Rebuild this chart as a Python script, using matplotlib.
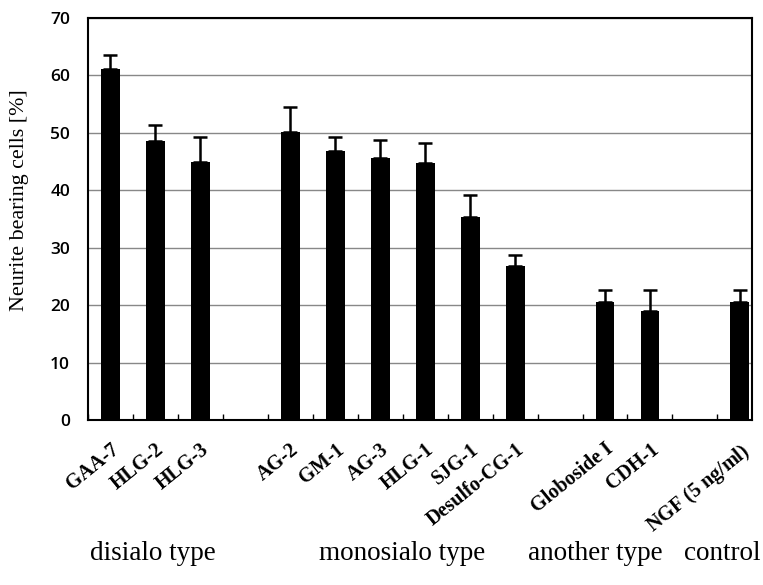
import numpy as np
import matplotlib.pyplot as plt

# data
labels = ["GAA-7", "HLG-2", "HLG-3", "AG-2", "GM-1", "AG-3", "HLG-1", "SJG-1",
          "Desulfo-CG-1", "Globoside I", "CDH-1", r"$\mathbf{NGF}$ (5 ng/ml)"]
slots = [0, 1, 2, 4, 5, 6, 7, 8, 9, 11, 12, 14]
values = [61.2, 48.5, 45.0, 50.2, 46.9, 45.7, 44.7, 35.4, 26.9, 20.6, 19.0, 20.6]
errors = [2.4, 2.9, 4.3, 4.3, 2.4, 3.0, 3.5, 3.8, 1.8, 2.1, 3.7, 2.1]
groups = ["disialo type", "monosialo type", "another type", "control"]
group_x = [153, 402, 595, 722]

plt.rcParams['mathtext.fontset'] = 'custom'
plt.rcParams['mathtext.bf'] = 'Liberation Serif:bold'
plt.rcParams['mathtext.rm'] = 'Liberation Serif'

fig = plt.figure(figsize=(7.63, 5.85), dpi=100)
ax = fig.add_axes([88/763, 165/585, 664/763, 402/585])

ax.bar(slots, values, width=0.42, color="black", zorder=3)
ax.errorbar(slots, values, yerr=[np.zeros(len(errors)), errors], fmt="none",
            ecolor="black", elinewidth=1.8, capsize=5, capthick=1.8, zorder=3)

ax.set_ylim(0, 70)
ax.set_xlim(-0.47, 14.27)
ax.set_yticks(range(0, 71, 10))
ax.set_yticklabels([str(v) for v in range(0, 71, 10)], family="Open Sans",
                   fontsize=12.5, fontweight="semibold")
ax.yaxis.grid(True, color="#888888", linewidth=1, zorder=0)
for s in ax.spines.values():
    s.set_linewidth(1.5)
ax.tick_params(axis="y", length=0, pad=13)

ax.set_xticks(slots)
ax.set_xticklabels(labels, rotation=39, ha="right", rotation_mode="anchor",
                   family="Liberation Serif", fontweight="bold", fontsize=14.5)
ax.tick_params(axis="x", length=0, pad=14)
ax.set_xticks(np.arange(-0.5, 14.5, 1), minor=True)
ax.tick_params(axis="x", which="minor", direction="in", length=4, width=1)

ax.set_ylabel("Neurite bearing cells [%]", family="Liberation Serif", fontsize=15.8)
ax.yaxis.set_label_coords(-(88 - 29) / 664, (420 - 200) / 402)

for g, gx in zip(groups, group_x):
    fig.text(gx/763, 1 - 554/585, g, ha="center", va="center",
             family="Liberation Serif", fontsize=19.5)

fig.savefig("out.png", dpi=100)
